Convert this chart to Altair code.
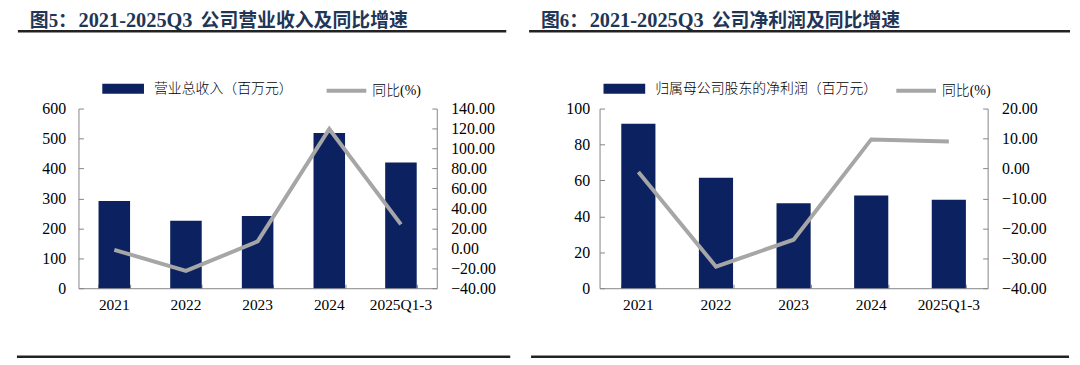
import altair as alt
import pandas as pd

# ---------------- data ----------------
categories = ["2021", "2022", "2023", "2024", "2025Q1-3"]
revenue = [291, 225, 241, 518, 420]
revenue_yoy = [-1.5, -22.7, 6.9, 119.5, 24.0]
profit = [91.5, 61.5, 47.3, 51.6, 49.2]
profit_yoy = [-1.2, -32.8, -23.8, 9.7, 9.0]

title_prefix = ["图5：", "图6："]
title_period = "2021-2025Q3"
title_body = ["公司营业收入及同比增速", "公司净利润及同比增速"]
bar_names = ["营业总收入（百万元）", "归属母公司股东的净利润（百万元）"]
line_name = "同比(%)"

rev_ticks = [0, 100, 200, 300, 400, 500, 600]
rev_yoy_ticks = [-40, -20, 0, 20, 40, 60, 80, 100, 120, 140]
pro_ticks = [0, 20, 40, 60, 80, 100]
pro_yoy_ticks = [-40, -30, -20, -10, 0, 10, 20]

# ---------------- style / layout ----------------
NAVY = "#0c2260"
GRAY = "#a6a6a6"
AXIS = "#868686"
TITLE_C = "#1f3656"
SERIF = "Liberation Serif, Noto Sans CJK SC, serif"
CJK = "Liberation Serif, Noto Sans CJK SC, sans-serif"
W, HH = 1072, 352          # whole drawing area (chart coords = page - 8)
Y0, Y1 = 281, 100          # plot bottom / top
TY = 11.5                  # title centre line


def panel(tag, vals, yoy, bdom, bticks, ldom, lticks, x0, x1, tprefix, tbody, bname,
          lab_pad_l, lab_pad_r, leg_bar_x, leg_line_x, title_x, top_rule, bot_rule):
    df = pd.DataFrame({"cat": categories, "val": vals, "yoy": yoy,
                       "bs" + tag: [bname] * len(categories),
                       "ls" + tag: [line_name] * len(categories)})
    one = pd.DataFrame({"a": [tprefix], "b": [title_period], "c": [tbody]})

    def xs():
        return alt.Scale(domain=categories, range=[x0, x1],
                         paddingInner=0.56, paddingOuter=0.28)

    def ys_b():
        return alt.Scale(domain=bdom, range=[Y0, Y1], nice=False, zero=True)

    def ys_l():
        return alt.Scale(domain=ldom, range=[Y0, Y1], nice=False, zero=False)

    lab = dict(labelFont=SERIF, labelColor="#000", grid=False)

    bars = alt.Chart(df).mark_bar().encode(
        x=alt.X("cat:N", sort=categories, scale=xs(), title=None,
                axis=alt.Axis(orient="bottom", offset=Y0 - HH, labelAngle=0, ticks=False,
                              labelFontSize=15.5, domainColor=AXIS, labelPadding=9, **lab)),
        y=alt.Y("val:Q", title=None, scale=ys_b(),
                axis=alt.Axis(orient="left", offset=-x0, values=bticks, ticks=False,
                              labelFontSize=16, domainColor=AXIS, labelPadding=lab_pad_l,
                              format="d", **lab)),
        color=alt.Color("bs%s:N" % tag, scale=alt.Scale(range=[NAVY]),
                        legend=alt.Legend(orient="none", legendX=leg_bar_x, legendY=59,
                                          title=None, padding=0, labelLimit=0,
                                          symbolType="M-1,-0.24H1V0.24H-1Z",
                                          symbolSize=1764, symbolStrokeWidth=0,
                                          labelFont=CJK, labelFontSize=14,
                                          labelFontWeight=300,
                                          labelColor="#000", labelOffset=10)),
    )

    line = alt.Chart(df).mark_line(strokeWidth=4, strokeCap="butt").encode(
        x=alt.X("cat:N", sort=categories, scale=xs(), title=None,
                axis=alt.Axis(orient="bottom", offset=Y0 - 4 - HH, labels=False, domain=False,
                              ticks=True, tickSize=4, tickBand="extent",
                              tickColor=AXIS, grid=False)),
        y=alt.Y("yoy:Q", title=None, scale=ys_l(),
                axis=alt.Axis(orient="right", offset=x1 - W, values=lticks, ticks=False,
                              labelFontSize=16, domainColor=AXIS, labelPadding=lab_pad_r,
                              format=".2f", **lab)),
        stroke=alt.Stroke("ls%s:N" % tag, scale=alt.Scale(range=[GRAY]),
                          legend=alt.Legend(orient="none", legendX=leg_line_x, legendY=60,
                                            title=None, padding=0, labelLimit=0,
                                            symbolType="stroke",
                                            symbolSize=1600, symbolStrokeWidth=4,
                                            labelFont=CJK, labelFontSize=14,
                                            labelFontWeight=300,
                                            labelColor="#000", labelOffset=4)),
    )

    # inward tick marks for the value axes (invisible helper layers)
    tick_l = alt.Chart(df).mark_point(opacity=0).encode(
        y=alt.Y("val:Q", title=None, scale=ys_b(),
                axis=alt.Axis(orient="left", offset=-(x0 + 5), values=bticks, labels=False,
                              domain=False, ticks=True, tickSize=5, tickColor=AXIS, grid=False)),
    )
    tick_r = alt.Chart(df).mark_point(opacity=0).encode(
        y=alt.Y("yoy:Q", title=None, scale=ys_l(),
                axis=alt.Axis(orient="right", offset=x1 - 5 - W, values=lticks, labels=False,
                              domain=False, ticks=True, tickSize=5, tickColor=AXIS, grid=False)),
    )

    tstyle = dict(align="left", baseline="middle", fontWeight="bold", color=TITLE_C)
    t1 = alt.Chart(one).mark_text(font=CJK, fontSize=19, **tstyle).encode(
        x=alt.value(title_x), y=alt.value(TY), text="a:N")
    t2 = alt.Chart(one).mark_text(font=SERIF, fontSize=20.5, **tstyle).encode(
        x=alt.value(title_x + 49), y=alt.value(TY), text="b:N")
    t3 = alt.Chart(one).mark_text(font=CJK, fontSize=19, **tstyle).encode(
        x=alt.value(title_x + 172), y=alt.value(TY), text="c:N")
    r1 = alt.Chart(one).mark_rule(strokeWidth=2.5, color="#222").encode(
        x=alt.value(top_rule[0]), x2=alt.value(top_rule[1]), y=alt.value(22))
    r2 = alt.Chart(one).mark_rule(strokeWidth=2.5, color="#222").encode(
        x=alt.value(bot_rule[0]), x2=alt.value(bot_rule[1]), y=alt.value(350))
    return [bars, line, tick_l, tick_r, t1, t2, t3, r1, r2]


layers = panel("1", revenue, revenue_yoy, [0, 600], rev_ticks, [-40, 140], rev_yoy_ticks,
               71, 432, title_prefix[0], title_body[0], bar_names[0], 13, 14, 95, 319, 22,
               (10, 502), (9, 506))
layers += panel("2", profit, profit_yoy, [0, 100], pro_ticks, [-40, 20], pro_yoy_ticks,
                596, 987, title_prefix[1], title_body[1], bar_names[1], 10, 14, 600, 893, 537,
                (525, 1070), (527, 1069))

chart = alt.layer(*layers).resolve_scale(
    x="independent", y="independent", color="independent", stroke="independent"
).resolve_axis(x="independent", y="independent").resolve_legend(
    color="independent", stroke="independent"
).properties(width=W, height=HH, padding=0, autosize=alt.AutoSizeParams(type="none")
).configure_view(stroke=None)

chart.save("out.html", embed_options={"renderer": "svg", "actions": False})
